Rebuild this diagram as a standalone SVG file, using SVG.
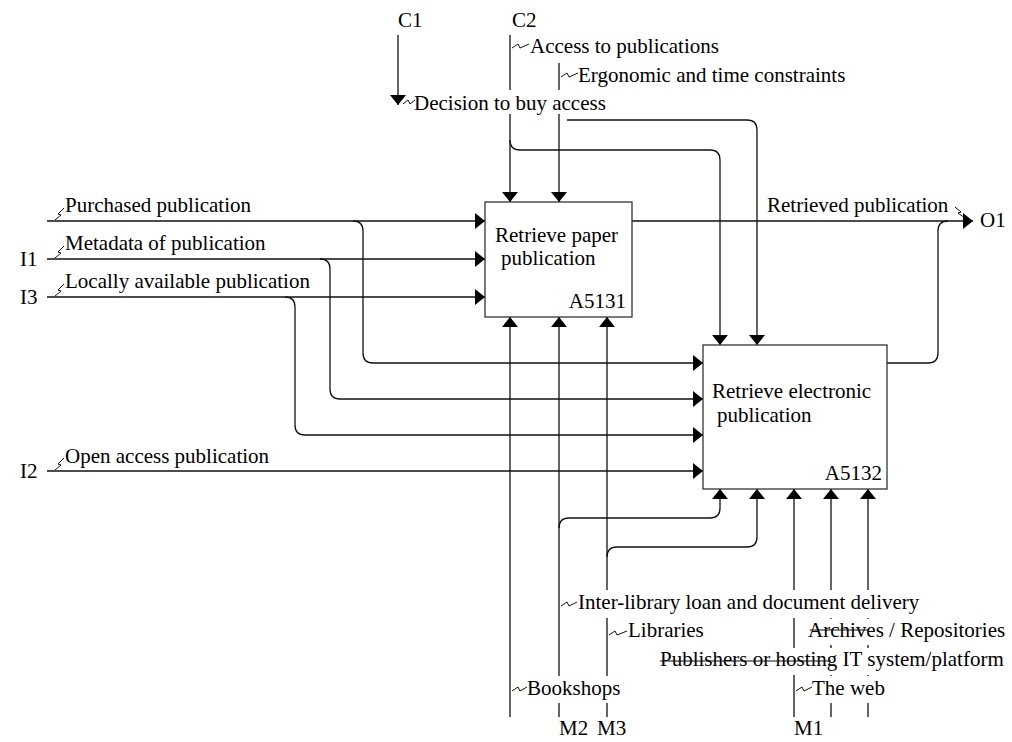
<svg xmlns="http://www.w3.org/2000/svg" width="1012" height="742" viewBox="0 0 1012 742">
<defs>
<marker id="ah" markerUnits="userSpaceOnUse" markerWidth="10" markerHeight="16" refX="10" refY="8" orient="auto" viewBox="0 0 10 16"><path d="M0,0 L10,8 L0,16 z" fill="#000"/></marker>
<style>
.t{font-family:"Liberation Serif","Times New Roman",serif;font-size:21px;fill:#000}
.c{fill:none;stroke:#111;stroke-width:1.3}
.a{marker-end:url(#ah)}
.s{fill:none;stroke:#111;stroke-width:1}
.bg{fill:#fff}
.box{fill:#fff;stroke:#333;stroke-width:1.3}
</style>
</defs>
<rect width="1012" height="742" fill="#fff"/>
<g id="connectors">
<path class="c a" d="M47,221 H485"/>
<path class="c a" d="M353,221 Q363,221 363,231 V353 Q363,363 373,363 H703"/>
<path class="c a" d="M47,259 H485"/>
<path class="c a" d="M320,259 Q330,259 330,269 V389 Q330,399 340,399 H703"/>
<path class="c a" d="M47,297 H485"/>
<path class="c a" d="M285,297 Q295,297 295,307 V425 Q295,435 305,435 H703"/>
<path class="c a" d="M47,471 H703"/>
<path class="c a" d="M398,35 V105"/>
<path class="c a" d="M567,120 H747 Q757,120 757,130 V345"/>
<path class="c a" d="M510,35 V202"/>
<path class="c a" d="M510,140 Q510,150 520,150 H710 Q720,150 720,160 V345"/>
<path class="c a" d="M559,63 V202"/>
<path class="c a" d="M632,221 H973"/>
<path class="c" d="M887,363 H928 Q938,363 938,353 V231 Q938,221 948,221"/>
<path class="c a" d="M510,717 V317"/>
<path class="c a" d="M559,717 V317"/>
<path class="c a" d="M559,528 Q559,518 569,518 H710 Q720,518 720,508 V489"/>
<path class="c a" d="M607,717 V317"/>
<path class="c a" d="M607,557 Q607,547 617,547 H747 Q757,547 757,537 V489"/>
<path class="c a" d="M794,717 V489"/>
<path class="c a" d="M831,717 V489"/>
<path class="c a" d="M868,717 V489"/>
</g>
<g id="labels">
<rect class="bg" x="412" y="90" width="201" height="24"/>
<rect class="bg" x="576" y="590" width="350" height="28"/>
<rect class="bg" x="627" y="619" width="80" height="26"/>
<rect class="bg" x="806" y="619" width="204" height="26"/>
<rect class="bg" x="658" y="648" width="352" height="27"/>
<rect class="bg" x="526" y="676" width="97" height="27"/>
<rect class="bg" x="811" y="676" width="77" height="27"/>
<text class="t" x="398" y="27">C1</text>
<text class="t" x="512" y="27">C2</text>
<path class="s" d="M512,48 L518,44 L520,48 L529,44"/>
<text class="t" x="530" y="53">Access to publications</text>
<path class="s" d="M561,77 L567,73 L569,77 L578,73"/>
<text class="t" x="578" y="82">Ergonomic and time constraints</text>
<path class="s" d="M403,104 L408,100 L410,104 L415,100"/>
<text class="t" x="414" y="110">Decision to buy access</text>
<path class="s" d="M55,220 L61,215 L58,214 L64,208"/>
<text class="t" x="65" y="212">Purchased publication</text>
<path class="s" d="M55,258 L61,253 L58,252 L64,246"/>
<text class="t" x="65" y="250">Metadata of publication</text>
<path class="s" d="M55,296 L61,291 L58,290 L64,284"/>
<text class="t" x="65" y="288">Locally available publication</text>
<path class="s" d="M55,470 L61,465 L58,464 L64,458"/>
<text class="t" x="65" y="463">Open access publication</text>
<text class="t" x="20" y="266">I1</text>
<text class="t" x="20" y="304">I3</text>
<text class="t" x="20" y="478">I2</text>
<text class="t" x="767" y="212">Retrieved publication</text>
<path class="s" d="M955,207 L961,212 L958,213 L965,218"/>
<text class="t" x="980" y="227">O1</text>
<path class="s" d="M561,606 L567,602 L569,606 L577,602"/>
<text class="t" x="578" y="609">Inter-library loan and document delivery</text>
<path class="s" d="M609,635 L615,631 L617,635 L627,631"/>
<text class="t" x="628" y="637">Libraries</text>
<text class="t" x="808" y="637">Archives / Repositories</text>
<path class="s" d="M810,630 H868"/>
<text class="t" x="660" y="666">Publishers or hosting IT system/platform</text>
<path class="s" d="M660,661 H831"/>
<path class="s" d="M512,691 L518,687 L520,691 L527,687"/>
<text class="t" x="527" y="695">Bookshops</text>
<path class="s" d="M796,691 L802,687 L804,691 L812,687"/>
<text class="t" x="812" y="695">The web</text>
<text class="t" x="559" y="735">M2</text>
<text class="t" x="597" y="735">M3</text>
<text class="t" x="794" y="735">M1</text>
</g>
<g id="A5131">
<rect class="box" x="485" y="202" width="147" height="115"/>
<text class="t" x="495" y="242">Retrieve paper</text>
<text class="t" x="501" y="265">publication</text>
<text class="t" x="626" y="308" text-anchor="end">A5131</text>
</g>
<g id="A5132">
<rect class="box" x="703" y="345" width="184" height="144"/>
<text class="t" x="712" y="398">Retrieve electronic</text>
<text class="t" x="717" y="422">publication</text>
<text class="t" x="882" y="480" text-anchor="end">A5132</text>
</g>
</svg>
